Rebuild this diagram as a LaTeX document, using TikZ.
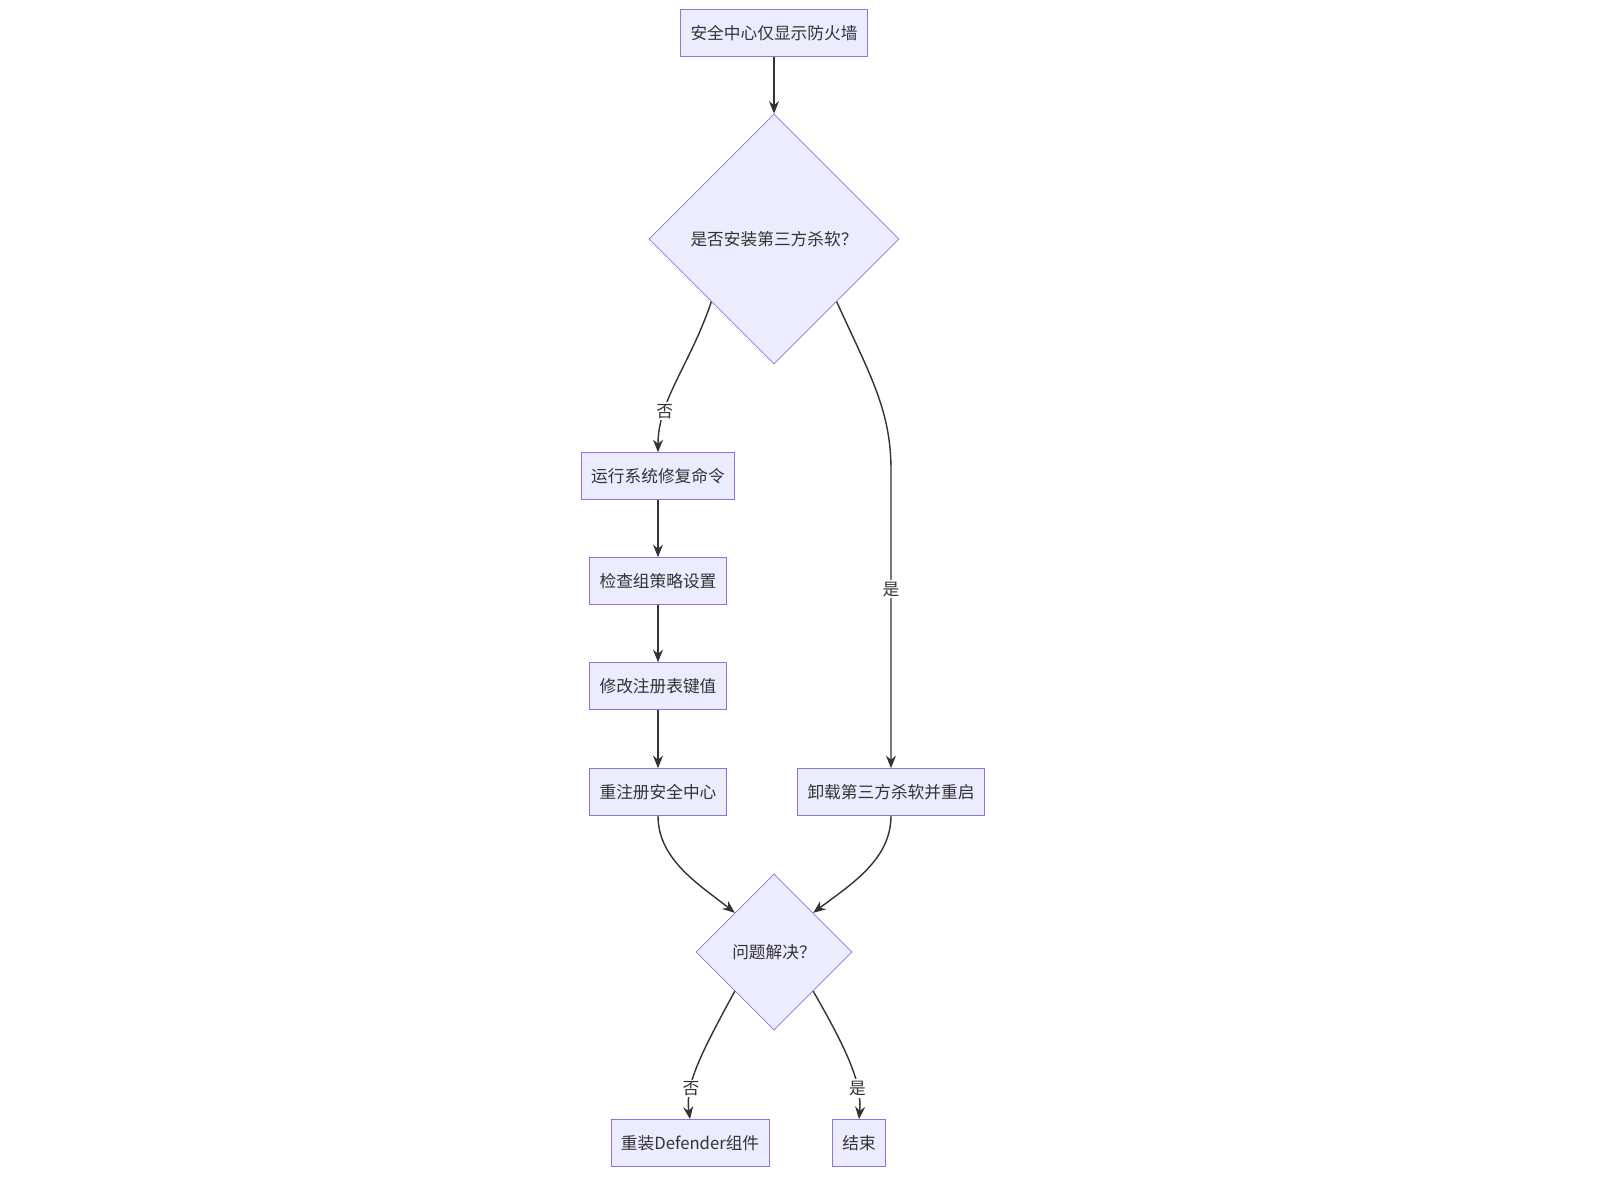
\documentclass[tikz,border=0pt]{standalone}
\usepackage{fontspec}
\setmainfont{Noto Sans CJK SC}
\usetikzlibrary{shapes.geometric,arrows.meta}
\definecolor{nodefill}{HTML}{ECECFF}
\definecolor{nodeline}{HTML}{9370DB}
\definecolor{edgeline}{HTML}{333333}
\tikzset{
    box/.style = {rectangle, fill = nodefill, draw = nodeline, minimum height = .94cm, inner xsep = .2cm, font = \fontsize{9.5}{11}\selectfont, text = edgeline},
    choice/.style = {diamond, aspect = 1, fill = nodefill, draw = nodeline, inner sep = 0pt, font = \fontsize{9.5}{11}\selectfont, text = edgeline},
    flow/.style = {-{Stealth[length = .25cm, width = .2cm]}, draw = edgeline, line width = .8pt},
    tag/.style = {fill = white, inner sep = 1pt, font = \fontsize{9.5}{11}\selectfont, text = edgeline}
}
\begin{document}
\begin{tikzpicture}[x = .02cm, y = -.02cm]
    \useasboundingbox (0,0) rectangle (1600,1200);

    % Nodes:
    \node [box] (Start) at (774,33) {安全中心仅显示防火墙};
    \node [choice, minimum size = 5cm] (Third) at (774,239) {是否安装第三方杀软？};
    \node [box] (Repair) at (658,476) {运行系统修复命令};
    \node [box] (Policy) at (658,581) {检查组策略设置};
    \node [box] (Registry) at (658,686) {修改注册表键值};
    \node [box] (Reregister) at (658,792) {重注册安全中心};
    \node [box] (Uninstall) at (891,792) {卸载第三方杀软并重启};
    \node [choice, minimum size = 3.12cm] (Solved) at (774,952) {问题解决？};
    \node [box] (Reinstall) at (690,1143) {重装Defender组件};
    \node [box] (End) at (859,1143) {结束};

    % Connectors:
    \draw [flow] (Start) -- (Third);
    \draw [flow] (Third.south west) .. controls (690,365) and (658,400) .. (Repair.north)
        node [tag, pos = .72] {否};
    \draw [flow] (Third.south east) .. controls (870,375) and (891,410) .. (891,470)
        -- (Uninstall.north) node [tag, pos = .4] {是};
    \draw [flow] (Repair) -- (Policy);
    \draw [flow] (Policy) -- (Registry);
    \draw [flow] (Registry) -- (Reregister);
    \draw [flow] (Reregister.south) .. controls (658,860) and (700,885) .. (Solved.north west);
    \draw [flow] (Uninstall.south) .. controls (891,860) and (850,885) .. (Solved.north east);
    \draw [flow] (Solved.south west) .. controls (700,1055) and (685,1085) .. (Reinstall.north)
        node [tag, pos = .7] {否};
    \draw [flow] (Solved.south east) .. controls (850,1055) and (862,1085) .. (End.north)
        node [tag, pos = .7] {是};
\end{tikzpicture}
\end{document}
